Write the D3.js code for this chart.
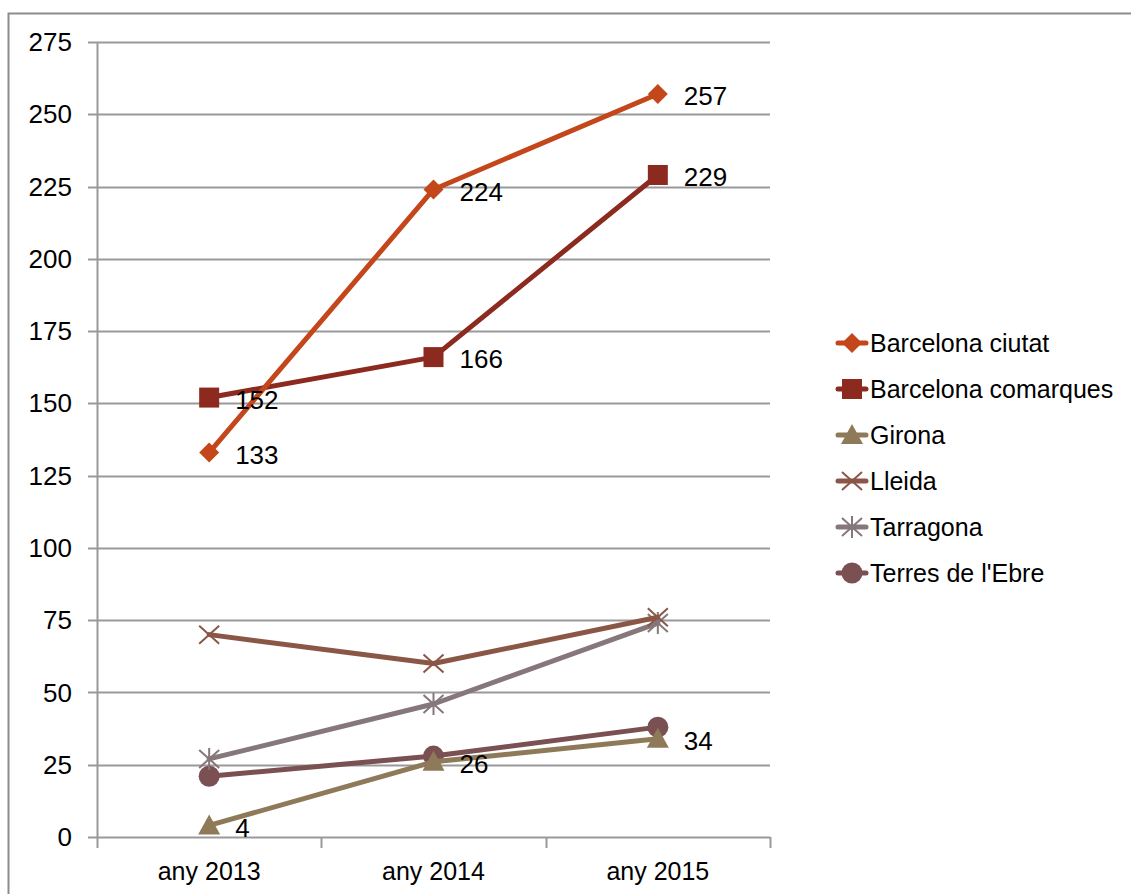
<!DOCTYPE html>
<html>
<head>
<meta charset="utf-8">
<script src="https://cdn.jsdelivr.net/npm/d3@7"></script>
<style>
  body { margin: 0; background: #fff; }
  svg { font-family: "Liberation Sans", Arial, sans-serif; }
</style>
</head>
<body>
<svg id="chart" width="1131" height="894"></svg>
<script>
const years = ["any 2013", "any 2014", "any 2015"];
const seriesNames = ["Barcelona ciutat", "Barcelona comarques", "Girona", "Lleida", "Tarragona", "Terres de l'Ebre"];
const bcnCiutat = [133, 224, 257];
const bcnComarques = [152, 166, 229];
const girona = [4, 26, 34];
const lleida = [70, 60, 76];
const tarragona = [27, 46, 74];
const terresEbre = [21, 28, 38];
const yTicks = [0, 25, 50, 75, 100, 125, 150, 175, 200, 225, 250, 275];

const colors = ["#C4461B", "#8C2A20", "#8E7A58", "#8A5747", "#85777A", "#7B5052"];
const markers = ["diamond", "square", "triangle", "x", "star", "circle"];
const labelled = [true, true, true, false, false, false];
const allValues = [bcnCiutat, bcnComarques, girona, lleida, tarragona, terresEbre];

const svg = d3.select("#chart");
const plot = { left: 97, right: 770, top: 42, bottom: 837 };

// outer frame
svg.append("rect")
  .attr("x", 8.5).attr("y", 13.5)
  .attr("width", 1140).attr("height", 900)
  .attr("fill", "none").attr("stroke", "#8c8c8c").attr("stroke-width", 2);

const x = d3.scaleBand().domain(years).range([plot.left, plot.right]);
const y = d3.scaleLinear().domain([0, 275]).range([plot.bottom, plot.top]);

// gridlines
svg.append("g")
  .selectAll("line")
  .data(yTicks)
  .join("line")
  .attr("x1", plot.left - 9).attr("x2", plot.right)
  .attr("y1", d => Math.round(y(d)) + 0.5).attr("y2", d => Math.round(y(d)) + 0.5)
  .attr("stroke", "#999").attr("stroke-width", 2);

// y axis line
svg.append("line")
  .attr("x1", plot.left + 0.5).attr("x2", plot.left + 0.5)
  .attr("y1", plot.top).attr("y2", plot.bottom)
  .attr("stroke", "#999").attr("stroke-width", 2);

// y labels
svg.append("g")
  .selectAll("text")
  .data(yTicks)
  .join("text")
  .attr("x", 72).attr("y", d => y(d))
  .attr("dy", "0.35em")
  .attr("text-anchor", "end")
  .style("font-size", "26px")
  .text(d => d);

// x axis tick marks at band edges
const edges = years.map(d => x(d)).concat([plot.right]);
svg.append("g")
  .selectAll("line")
  .data(edges)
  .join("line")
  .attr("x1", d => Math.round(d) + 0.5).attr("x2", d => Math.round(d) + 0.5)
  .attr("y1", plot.bottom).attr("y2", plot.bottom + 11)
  .attr("stroke", "#999").attr("stroke-width", 2);

svg.append("g")
  .selectAll("text")
  .data(years)
  .join("text")
  .attr("x", d => x(d) + x.bandwidth() / 2)
  .attr("y", 871).attr("dy", "0.35em")
  .attr("text-anchor", "middle")
  .style("font-size", "25px")
  .text(d => d);

function drawMarker(g, type, color) {
  if (type === "diamond") {
    g.append("path").attr("d", "M0,-10L10,0L0,10L-10,0Z").attr("fill", color);
  } else if (type === "square") {
    g.append("rect").attr("x", -10).attr("y", -10).attr("width", 20).attr("height", 20).attr("fill", color);
  } else if (type === "triangle") {
    g.append("path").attr("d", "M0,-11L11,9L-11,9Z").attr("fill", color);
  } else if (type === "circle") {
    g.append("circle").attr("r", 10.5).attr("fill", color);
  } else if (type === "x") {
    g.append("path").attr("d", "M-10,-9L10,9M-10,9L10,-9").attr("stroke", color).attr("stroke-width", 2);
  } else if (type === "star") {
    g.append("path").attr("d", "M-10,-9L10,9M-10,9L10,-9M0,-11L0,11").attr("stroke", color).attr("stroke-width", 2);
  }
}

const line = d3.line()
  .x((d, i) => x(years[i]) + x.bandwidth() / 2)
  .y(d => y(d));

// draw series (last-listed first so Barcelona sits on top)
const order = [5, 4, 3, 2, 1, 0];
order.forEach(si => {
  const vals = allValues[si];
  svg.append("path")
    .datum(vals)
    .attr("fill", "none")
    .attr("stroke", colors[si])
    .attr("stroke-width", 5)
    .attr("stroke-linejoin", "round")
    .attr("stroke-linecap", "round")
    .attr("d", line);
  vals.forEach((v, i) => {
    const g = svg.append("g")
      .attr("transform", `translate(${x(years[i]) + x.bandwidth() / 2},${y(v)})`);
    drawMarker(g, markers[si], colors[si]);
  });
});

// data labels
order.forEach(si => {
  if (!labelled[si]) return;
  allValues[si].forEach((v, i) => {
    svg.append("text")
      .attr("x", x(years[i]) + x.bandwidth() / 2 + 26)
      .attr("y", y(v) + 2)
      .attr("dy", "0.35em")
      .style("font-size", "26px")
      .attr("fill", "#000")
      .text(v);
  });
});

// legend
const legend = svg.append("g");
seriesNames.forEach((name, i) => {
  const ly = 343 + i * 46;
  legend.append("line")
    .attr("x1", 838).attr("x2", 866)
    .attr("y1", ly).attr("y2", ly)
    .attr("stroke", colors[i]).attr("stroke-width", 5)
    .attr("stroke-linecap", "round");
  const g = legend.append("g").attr("transform", `translate(852,${ly})`);
  drawMarker(g, markers[i], colors[i]);
  legend.append("text")
    .attr("x", 870).attr("y", ly).attr("dy", "0.35em")
    .style("font-size", "25px")
    .text(name);
});
</script>
</body>
</html>
